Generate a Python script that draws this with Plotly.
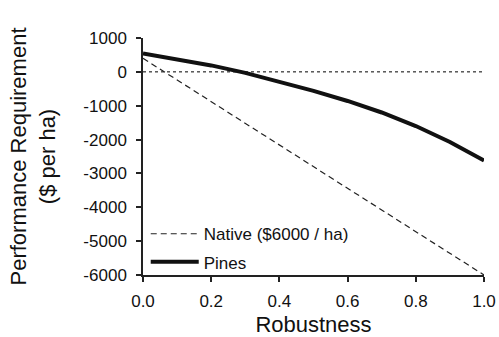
import plotly.graph_objects as go

robustness = [0.0, 0.1, 0.2, 0.3, 0.4, 0.5, 0.6, 0.7, 0.8, 0.9, 1.0]
pines = [540, 380, 190, -30, -280, -560, -860, -1200, -1600, -2070, -2620]
native_x = [0.0, 1.0]
native = [400, -6000]
zero_x = [0.0, 1.0]
zero_y = [0, 0]
y_ticks = [1000, 0, -1000, -2000, -3000, -4000, -5000, -6000]
y_labels = ["1000", "0", "-1000", "-2000", "-3000", "-4000", "-5000", "-6000"]
x_ticks = [0.0, 0.2, 0.4, 0.6, 0.8, 1.0]
x_labels = ["0.0", "0.2", "0.4", "0.6", "0.8", "1.0"]

fig = go.Figure()
fig.add_trace(go.Scatter(x=zero_x, y=zero_y, mode="lines", showlegend=False,
                         line=dict(color="black", width=1, dash="3px,3px"), hoverinfo="skip"))
fig.add_trace(go.Scatter(x=native_x, y=native, mode="lines", name="Native ($6000 / ha)",
                         legendgroup="a",
                         line=dict(color="#222", width=1.2, dash="6px,4px")))
fig.add_trace(go.Scatter(x=robustness, y=pines, mode="lines", name="Pines",
                         legendgroup="b",
                         line=dict(color="#111", width=4)))

font = "Liberation Sans, Arial, sans-serif"
fig.update_layout(
    width=499, height=337,
    margin=dict(l=143, r=15, t=38, b=62),
    plot_bgcolor="white", paper_bgcolor="white",
    font=dict(family=font, color="#111", size=17),
    showlegend=True,
    legend=dict(x=0.008, y=-0.022, xanchor="left", yanchor="bottom",
                bgcolor="rgba(0,0,0,0)", font=dict(size=17),
                tracegroupgap=3, itemwidth=48),
    xaxis=dict(range=[0, 1], tickvals=x_ticks, ticktext=x_labels,
               showgrid=False, zeroline=False, showline=True, linecolor="#222", linewidth=1.5,
               ticks="outside", ticklen=5, tickcolor="#222", tickwidth=1.5,
               ticklabelstandoff=5, automargin=False,
               title=dict(text="Robustness", font=dict(size=22), standoff=7)),
    yaxis=dict(range=[-6000, 1000], tickvals=y_ticks, ticktext=y_labels,
               showgrid=False, zeroline=False, showline=True, linecolor="#222", linewidth=1.5,
               ticks="outside", ticklen=5, tickcolor="#222", tickwidth=1.5,
               ticklabelstandoff=6, automargin=False,
               title=dict(text="Performance Requirement<br>($ per ha)", font=dict(size=22), standoff=22)),
)
fig.write_html("out.html",
               config={"displayModeBar": False},
               post_script="document.body.style.margin='0';document.body.style.overflow='hidden';")
